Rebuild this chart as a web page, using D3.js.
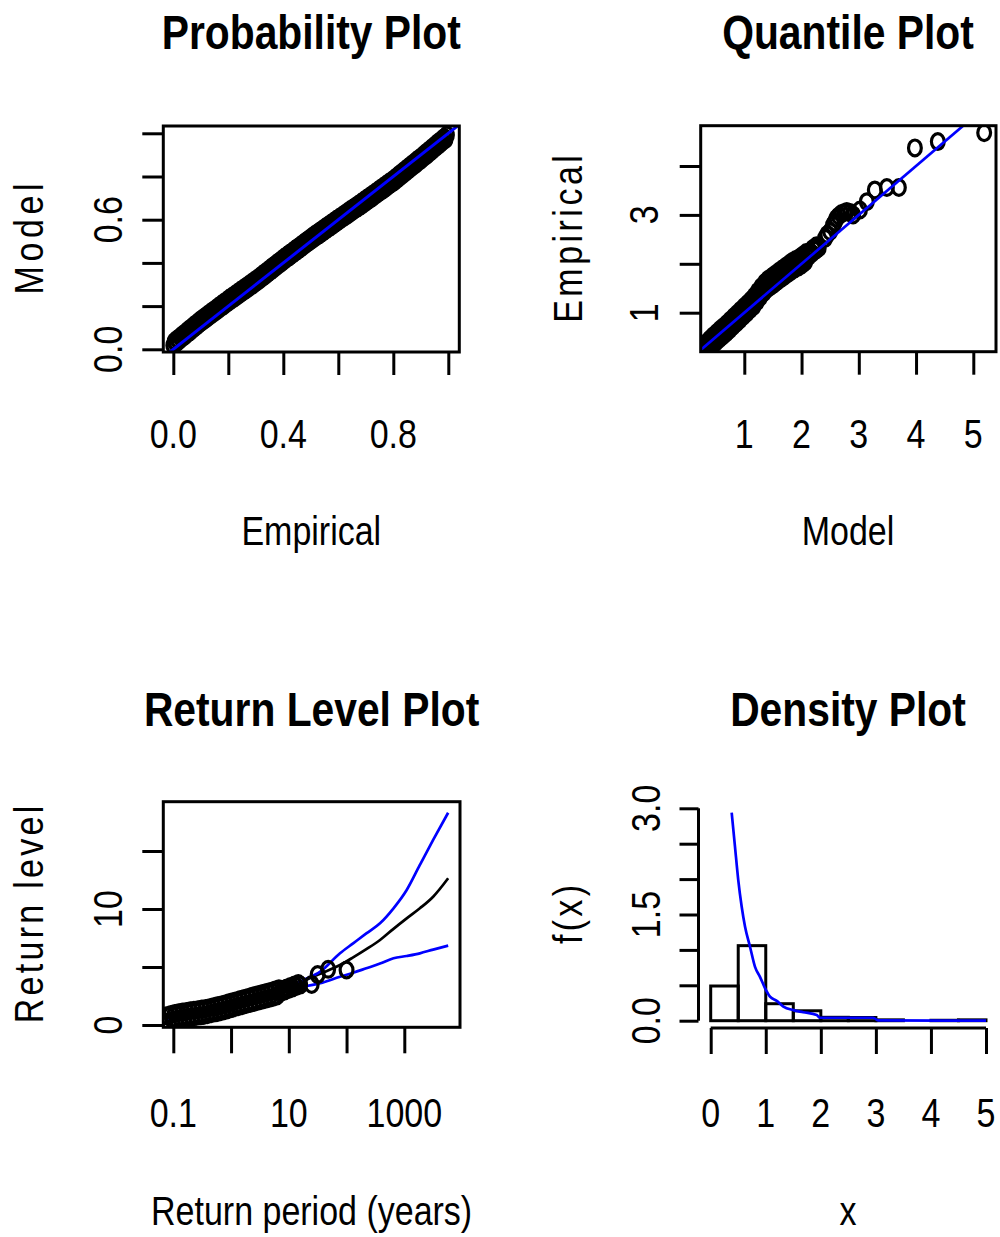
<!DOCTYPE html>
<html>
<head>
<meta charset="utf-8">
<script src="https://cdn.jsdelivr.net/npm/d3@7"></script>
<style>
  body { margin: 0; background: #fff; }
  text { font-family: "Liberation Sans", Arial, Helvetica, sans-serif; fill: #000; }
</style>
</head>
<body>
<svg id="chart" width="1000" height="1237"></svg>
<script>
// ---------- Probability plot: empirical vs model probabilities ----------
const ppEmpirical = [0.000,0.005,0.010,0.015,0.020,0.025,0.030,0.035,0.040,0.045,0.050,0.055,0.060,0.065,0.070,0.075,0.080,0.085,0.090,0.095,
  0.100,0.105,0.110,0.115,0.120,0.125,0.130,0.135,0.140,0.145,0.150,0.155,0.160,0.165,0.170,0.175,0.180,0.185,0.190,0.195,
  0.200,0.205,0.210,0.215,0.220,0.225,0.230,0.235,0.240,0.245,0.250,0.255,0.260,0.265,0.270,0.275,0.280,0.285,0.290,0.295,
  0.300,0.305,0.310,0.315,0.320,0.325,0.330,0.335,0.340,0.345,0.350,0.355,0.360,0.365,0.370,0.375,0.380,0.385,0.390,0.395,
  0.400,0.405,0.410,0.415,0.420,0.425,0.430,0.435,0.440,0.445,0.450,0.455,0.460,0.465,0.470,0.475,0.480,0.485,0.490,0.495,
  0.500,0.505,0.510,0.515,0.520,0.525,0.530,0.535,0.540,0.545,0.550,0.555,0.560,0.565,0.570,0.575,0.580,0.585,0.590,0.595,
  0.600,0.605,0.610,0.615,0.620,0.625,0.630,0.635,0.640,0.645,0.650,0.655,0.660,0.665,0.670,0.675,0.680,0.685,0.690,0.695,
  0.700,0.705,0.710,0.715,0.720,0.725,0.730,0.735,0.740,0.745,0.750,0.755,0.760,0.765,0.770,0.775,0.780,0.785,0.790,0.795,
  0.800,0.805,0.810,0.815,0.820,0.825,0.830,0.835,0.840,0.845,0.850,0.855,0.860,0.865,0.870,0.875,0.880,0.885,0.890,0.895,
  0.900,0.905,0.910,0.915,0.920,0.925,0.930,0.935,0.940,0.945,0.950,0.955,0.960,0.965,0.970,0.975,0.980,0.985,0.990,0.995];
const ppModel = [0.018,0.037,0.029,0.048,0.039,0.058,0.050,0.069,0.060,0.079,0.071,0.090,0.081,0.100,0.092,0.111,0.102,0.121,0.113,0.132,
  0.123,0.142,0.133,0.151,0.142,0.161,0.152,0.170,0.161,0.180,0.171,0.189,0.180,0.199,0.190,0.208,0.199,0.218,0.209,0.227,
  0.218,0.237,0.227,0.246,0.236,0.255,0.245,0.264,0.254,0.273,0.263,0.282,0.272,0.291,0.281,0.300,0.290,0.309,0.299,0.318,
  0.308,0.327,0.318,0.337,0.328,0.347,0.338,0.357,0.348,0.367,0.358,0.377,0.368,0.387,0.378,0.397,0.388,0.407,0.398,0.417,
  0.408,0.427,0.418,0.436,0.427,0.446,0.437,0.455,0.446,0.465,0.456,0.474,0.465,0.484,0.475,0.493,0.484,0.503,0.494,0.512,
  0.503,0.522,0.512,0.531,0.521,0.540,0.530,0.549,0.539,0.558,0.548,0.567,0.557,0.576,0.566,0.585,0.575,0.594,0.584,0.603,
  0.593,0.611,0.602,0.620,0.611,0.629,0.619,0.638,0.628,0.647,0.637,0.655,0.646,0.664,0.655,0.673,0.663,0.682,0.672,0.691,
  0.681,0.700,0.690,0.709,0.699,0.718,0.709,0.727,0.718,0.736,0.727,0.746,0.736,0.755,0.745,0.764,0.755,0.773,0.764,0.782,
  0.773,0.792,0.783,0.802,0.794,0.813,0.804,0.823,0.814,0.833,0.825,0.844,0.835,0.854,0.845,0.864,0.855,0.875,0.866,0.885,
  0.876,0.895,0.887,0.906,0.897,0.917,0.908,0.927,0.919,0.938,0.930,0.949,0.940,0.960,0.951,0.970,0.962,0.981,0.972,0.992];
const ppTicks = [0, 0.2, 0.4, 0.6, 0.8, 1.0];
const ppXLabels = [0, 0.4, 0.8];
const ppYLabels = [0, 0.6];

// ---------- Quantile plot: model vs empirical quantiles ----------
const qqModel = [0.26,0.28,0.30,0.32,0.34,0.36,0.38,0.40,0.42,0.44,0.46,0.48,0.50,0.52,0.54,0.56,0.58,0.60,0.62,0.64,
  0.66,0.68,0.70,0.72,0.74,0.76,0.78,0.80,0.82,0.84,0.86,0.88,0.90,0.92,0.94,0.96,0.98,1.00,1.02,1.04,
  1.06,1.08,1.10,1.12,1.14,1.16,1.18,1.20,1.22,1.24,1.26,1.28,1.30,1.32,1.34,1.36,1.38,1.40,1.42,1.44,
  1.46,1.48,1.50,1.52,1.54,1.56,1.58,1.60,1.62,1.64,1.66,1.68,1.70,1.72,1.74,1.76,1.78,1.80,1.82,1.84,
  1.86,1.88,1.90,1.92,1.94,1.96,1.98,2.00,2.02,2.04,2.06,2.08,2.10,2.12,2.14,2.16,2.18,2.20,2.22,2.24,
  2.26,2.28,2.30,
  2.41,2.45,2.50,2.55,2.58,2.61,2.65,2.70,2.75,2.79,2.85,2.90,3.02,3.14,3.28,3.49,3.70,3.98,4.38,5.19];
const qqEmpirical = [0.12,0.32,0.253,0.187,0.39,0.323,0.257,0.46,0.393,0.327,0.53,0.462,0.394,0.595,0.527,0.459,0.66,0.59,0.52,0.72,
  0.65,0.58,0.782,0.715,0.648,0.852,0.785,0.718,0.921,0.854,0.786,0.989,0.922,0.854,1.057,0.99,0.922,1.125,1.057,0.99,
  1.193,1.127,1.06,1.263,1.197,1.13,1.343,1.285,1.228,1.44,1.384,1.324,1.533,1.471,1.409,1.618,1.556,1.488,1.685,1.612,
  1.538,1.735,1.662,1.589,1.787,1.715,1.643,1.842,1.77,1.697,1.893,1.82,1.747,1.943,1.87,1.798,1.995,1.923,1.85,2.048,
  1.975,1.897,2.089,2.01,1.932,2.124,2.049,1.977,2.176,2.104,2.032,2.231,2.161,2.144,2.246,2.229,2.212,2.314,2.293,2.27,
  2.368,2.345,2.323,
  2.52,2.60,2.66,2.79,2.85,2.93,2.98,3.03,3.05,3.07,3.05,3.00,3.10,3.27,3.51,3.56,3.56,4.37,4.50,4.68];
const qqXTicks = [1, 2, 3, 4, 5];
const qqYTicks = [1, 2, 3, 4];
const qqYLabels = [1, 3];
const qqRefLine = [0, 6];

// ---------- Return level plot ----------
const rlPeriod = [0.072,0.078,0.084,0.091,0.098,0.106,0.114,0.123,0.133,0.144,0.155,0.168,0.181,0.196,0.212,0.228,0.247,0.266,0.288,0.311,0.336,0.363,0.392,0.423,0.457,0.493,0.533,0.575,0.621,0.671,0.725,0.783,0.845,0.913,0.986,1.06,1.15,1.24,1.34,1.45,1.56,1.69,1.82,1.97,2.13,2.30,2.48,2.68,2.90,3.13,3.38,3.65,3.94,4.25,4.60,4.96,5.36,5.79,6.25,6.75,7.29,7.87,8.50,9.19,9.92,10.7,11.6,12.5,13.5,14.6,15.7,
  24.9,31.6,48,100];
const rlLevel = [0.17,0.79,0.29,0.91,0.40,1.00,0.47,1.06,0.53,1.12,0.58,1.17,0.64,1.23,0.69,1.28,0.74,1.32,0.79,1.37,0.83,1.42,0.89,1.49,0.97,1.57,1.05,1.65,1.13,1.73,1.21,1.82,1.30,1.91,1.40,2.00,1.49,2.10,1.58,2.19,1.67,2.28,1.77,2.37,1.86,2.47,1.95,2.56,2.04,2.65,2.13,2.73,2.21,2.82,2.30,2.91,2.39,3.01,2.51,3.13,2.81,3.07,2.94,3.20,3.06,3.32,3.19,3.45,3.32,3.58,3.44,
  3.50,4.35,4.80,4.74];
const rlCurvePeriod = [0.08,0.1,0.2,0.5,1,2,5,10,18,35,77,130,220,380,650,1100,1860,3160,5750];
const rlEstimate = [0.3,0.5,0.9,1.35,1.7,2.05,2.6,3.15,3.8,4.42,5.17,5.83,6.54,7.33,8.29,9.19,10.06,11.06,12.65];
const rlUpper = [0.35,0.55,0.95,1.4,1.75,2.12,2.7,3.3,3.88,4.6,6.18,7.04,7.9,8.77,10.06,11.64,13.8,15.95,18.3];
const rlLower = [0.25,0.45,0.85,1.3,1.65,1.98,2.5,2.95,3.3,3.6,4.16,4.5,4.89,5.3,5.75,5.95,6.18,6.5,6.84];
const rlXTicks = [0.1, 1, 10, 100, 1000];
const rlXLabels = ["0.1", "10", "1000"];
const rlYTicks = [0, 5, 10, 15];
const rlYLabels = [0, 10];

// ---------- Density plot ----------
const histBreaks = [0,0.5,1,1.5,2,2.5,3,3.5,4,4.5,5];
const histDensity = [0.49,1.06,0.24,0.14,0.048,0.045,0.012,0.0,0.006,0.012];
const densX = [0.381,0.441,0.50,0.563,0.623,0.714,0.805,0.895,0.986,1.077,1.20,1.32,1.50,1.68,1.925,1.985,2.95,3.04,5.0];
const densY = [2.94,2.46,1.99,1.61,1.33,1.045,0.76,0.62,0.46,0.34,0.28,0.20,0.15,0.12,0.08,0.042,0.042,0.005,0.0];
const dXTicks = [0, 1, 2, 3, 4, 5];
const dYTicks = [0, 0.5, 1, 1.5, 2, 2.5, 3];
const dYLabels = ["0.0", "1.5", "3.0"];

// ---------- drawing helpers ----------
const svg = d3.select("#chart");
const SQX = 0.85;          // glyphs are drawn condensed
const LW = 3;
const BLUE = "#0000ff";

function hText(g, x, y, str, size, bold) {
  g.append("text")
    .attr("transform", `translate(${x},${y}) scale(${SQX},1)`)
    .attr("text-anchor", "middle")
    .style("font-size", size + "px")
    .style("font-weight", bold ? "bold" : "normal")
    .text(str);
}
// vertical text; "spaced" keeps the natural run length with condensed glyphs
function vText(g, x, y, str, size, spaced) {
  const t = g.append("text")
    .attr("transform", `translate(${x},${y}) rotate(-90) scale(${SQX},1)`)
    .attr("text-anchor", "middle")
    .style("font-size", size + "px")
    .text(str);
  if (spaced) {
    const L = t.node().getComputedTextLength();
    t.attr("textLength", L * 1.02 / SQX).attr("lengthAdjust", "spacing");
  }
}
function styleAxis(sel) {
  sel.select(".domain").remove();
  sel.selectAll(".tick text").remove();
  sel.selectAll(".tick line").attr("stroke", "#000").attr("stroke-width", LW);
}
function box(g, x, y) {
  const [x0, x1] = x.range(), [y0, y1] = y.range();
  g.append("rect")
    .attr("x", Math.min(x0, x1)).attr("y", Math.min(y0, y1))
    .attr("width", Math.abs(x1 - x0)).attr("height", Math.abs(y1 - y0))
    .attr("fill", "none").attr("stroke", "#000").attr("stroke-width", LW);
}
function clipFor(id, x, y) {
  const [x0, x1] = x.range(), [y0, y1] = y.range();
  svg.append("clipPath").attr("id", id).append("rect")
    .attr("x", Math.min(x0, x1)).attr("y", Math.min(y0, y1))
    .attr("width", Math.abs(x1 - x0)).attr("height", Math.abs(y1 - y0));
  return `url(#${id})`;
}
function points(g, xs, ys, x, y) {
  g.selectAll(null).data(d3.zip(xs, ys)).join("ellipse")
    .attr("cx", d => x(d[0])).attr("cy", d => y(d[1]))
    .attr("rx", 6.4).attr("ry", 7.9)
    .attr("fill", "none").attr("stroke", "#000").attr("stroke-width", 3.2);
}
function curve(g, xs, ys, x, y, color, w) {
  g.append("path")
    .datum(d3.zip(xs, ys))
    .attr("d", d3.line().curve(d3.curveMonotoneX).x(d => x(d[0])).y(d => y(d[1])))
    .attr("fill", "none").attr("stroke", color).attr("stroke-width", w)
    .attr("stroke-linejoin", "round");
}
const fmt1 = d3.format(".1f");

// ---------- Panel 1: Probability Plot ----------
{
  const x = d3.scaleLinear().domain([-0.0364, 1.04]).range([163.3, 459.3]);
  const y = d3.scaleLinear().domain([-0.0125, 1.0338]).range([352, 126]);
  const g = svg.append("g");
  const pg = g.append("g").attr("clip-path", clipFor("c1", x, y));
  points(pg, ppEmpirical, ppModel, x, y);
  curve(pg, [-0.1, 1.1], [-0.1, 1.1], x, y, BLUE, 3);
  box(g, x, y);
  g.append("g").attr("transform", "translate(0,352)")
    .call(d3.axisBottom(x).tickValues(ppTicks).tickSize(23).tickSizeOuter(0)).call(styleAxis);
  g.append("g").attr("transform", "translate(163.3,0)")
    .call(d3.axisLeft(y).tickValues(ppTicks).tickSize(21).tickSizeOuter(0)).call(styleAxis);
  ppXLabels.forEach(v => hText(g, x(v), 448, fmt1(v), 40));
  ppYLabels.forEach(v => vText(g, 121.5, y(v), fmt1(v), 40));
  hText(g, 311.3, 49, "Probability Plot", 48, true);
  hText(g, 311.3, 545, "Empirical", 40);
  vText(g, 42.5, 239, "Model", 40, true);
}

// ---------- Panel 2: Quantile Plot ----------
{
  const x = d3.scaleLinear().domain([0.2384, 5.3965]).range([700.7, 996]);
  const y = d3.scaleLinear().domain([0.2025, 4.824]).range([351.7, 125.7]);
  const g = svg.append("g");
  const pg = g.append("g").attr("clip-path", clipFor("c2", x, y));
  points(pg, qqModel, qqEmpirical, x, y);
  curve(pg, qqRefLine, qqRefLine, x, y, BLUE, 2.7);
  box(g, x, y);
  g.append("g").attr("transform", "translate(0,351.7)")
    .call(d3.axisBottom(x).tickValues(qqXTicks).tickSize(23).tickSizeOuter(0)).call(styleAxis);
  g.append("g").attr("transform", "translate(700.7,0)")
    .call(d3.axisLeft(y).tickValues(qqYTicks).tickSize(21).tickSizeOuter(0)).call(styleAxis);
  qqXTicks.forEach(v => hText(g, x(v), 448, String(v), 40));
  qqYLabels.forEach(v => vText(g, 658.3, y(v), String(v), 40));
  hText(g, 848, 49, "Quantile Plot", 48, true);
  hText(g, 848, 545, "Model", 40);
  vText(g, 581.5, 239, "Empirical", 40, true);
}

// ---------- Panel 3: Return Level Plot ----------
{
  const x = d3.scaleLog().domain([0.0671, 9215]).range([163.3, 460]);
  const y = d3.scaleLinear().domain([-0.198, 19.25]).range([1027.3, 801.7]);
  const g = svg.append("g");
  const pg = g.append("g").attr("clip-path", clipFor("c3", x, y));
  curve(pg, rlCurvePeriod, rlEstimate, x, y, "#000", 2.7);
  curve(pg, rlCurvePeriod, rlUpper, x, y, BLUE, 2.7);
  curve(pg, rlCurvePeriod, rlLower, x, y, BLUE, 2.7);
  points(pg, rlPeriod, rlLevel, x, y);
  box(g, x, y);
  g.append("g").attr("transform", "translate(0,1027.3)")
    .call(d3.axisBottom(x).tickValues(rlXTicks).tickSize(26).tickSizeOuter(0)).call(styleAxis);
  g.append("g").attr("transform", "translate(163.3,0)")
    .call(d3.axisLeft(y).tickValues(rlYTicks).tickSize(21).tickSizeOuter(0)).call(styleAxis);
  rlXLabels.forEach(s => hText(g, x(+s), 1127, s, 40));
  rlYLabels.forEach(v => vText(g, 121.5, y(v), String(v), 40));
  hText(g, 311.6, 726, "Return Level Plot", 48, true);
  hText(g, 311.6, 1225, "Return period (years)", 40);
  vText(g, 42.5, 914.5, "Return level", 40, true);
}

// ---------- Panel 4: Density Plot ----------
{
  const x = d3.scaleLinear().domain([0, 5]).range([710.7, 986]);
  const y = d3.scaleLinear().domain([0, 3]).range([1020.7, 808.3]);
  const g = svg.append("g");
  const bars = d3.range(histDensity.length).map(i => [histBreaks[i], histBreaks[i + 1], histDensity[i]]);
  g.selectAll(null).data(bars).join("rect")
    .attr("x", d => x(d[0])).attr("width", d => x(d[1]) - x(d[0]))
    .attr("y", d => y(d[2])).attr("height", d => y(0) - y(d[2]))
    .attr("fill", "none").attr("stroke", "#000").attr("stroke-width", LW);
  curve(g, densX, densY, x, y, BLUE, 2.7);
  // axis lines span first to last tick
  g.append("line").attr("x1", x(0)).attr("x2", x(5)).attr("y1", 1028).attr("y2", 1028)
    .attr("stroke", "#000").attr("stroke-width", LW);
  g.append("line").attr("x1", 698.5).attr("x2", 698.5).attr("y1", y(0)).attr("y2", y(3))
    .attr("stroke", "#000").attr("stroke-width", LW);
  g.append("g").attr("transform", "translate(0,1028)")
    .call(d3.axisBottom(x).tickValues(dXTicks).tickSize(26).tickSizeOuter(0)).call(styleAxis);
  g.append("g").attr("transform", "translate(698.5,0)")
    .call(d3.axisLeft(y).tickValues(dYTicks).tickSize(19).tickSizeOuter(0)).call(styleAxis);
  dXTicks.forEach(v => hText(g, x(v), 1127, String(v), 40));
  dYLabels.forEach(s => vText(g, 660, y(+s), s, 40));
  hText(g, 848, 726, "Density Plot", 48, true);
  hText(g, 848, 1225, "x", 40);
  vText(g, 582, 914.5, "f(x)", 40, true);
}
</script>
</body>
</html>
